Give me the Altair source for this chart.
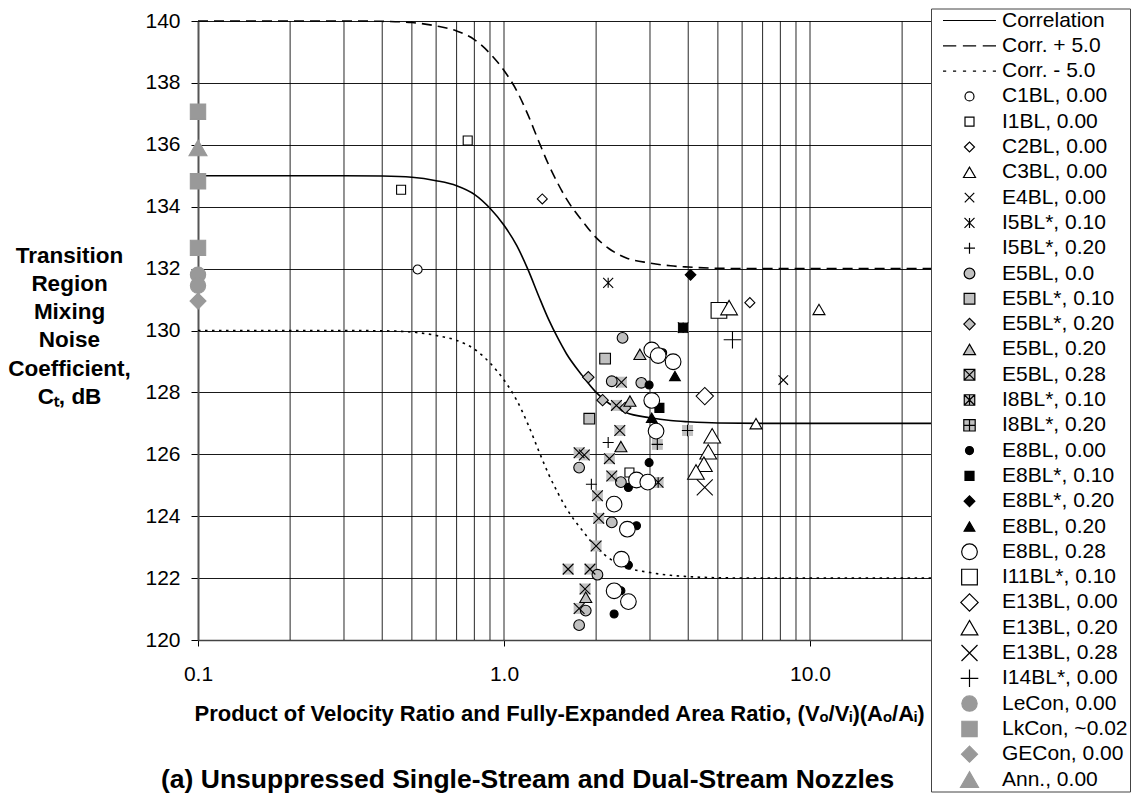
import altair as alt
import pandas as pd

FONT = "Liberation Sans"

# ---------------- correlation curves ----------------
corr_x = [0.1, 0.2, 0.3, 0.4, 0.5, 0.6, 0.7, 0.8, 0.9, 1.0, 1.1, 1.2, 1.3, 1.4, 1.5,
          1.6, 1.8, 2.0, 2.2, 2.5, 3.0, 3.5, 4.0, 5.0, 7.0, 10.0, 20.0, 50.0, 100.0]
corr_y = [135.0, 135.0, 135.0, 134.99, 134.95, 134.84, 134.68, 134.4, 133.95, 133.4, 132.75,
          131.95, 131.1, 130.35, 129.75, 129.25, 128.55, 128.0, 127.65, 127.35, 127.18,
          127.09, 127.05, 127.01, 127.0, 127.0, 127.0, 127.0, 127.0]
corr_plus_y = [140.0, 140.0, 140.0, 139.99, 139.95, 139.84, 139.68, 139.4, 138.95, 138.4, 137.75,
               136.95, 136.1, 135.35, 134.75, 134.25, 133.55, 133.0, 132.65, 132.35, 132.18,
               132.09, 132.05, 132.01, 132.0, 132.0, 132.0, 132.0, 132.0]
corr_minus_y = [130.0, 130.0, 130.0, 129.99, 129.95, 129.84, 129.68, 129.4, 128.95, 128.4, 127.75,
                126.95, 126.1, 125.35, 124.75, 124.25, 123.55, 123.0, 122.65, 122.35, 122.18,
                122.09, 122.05, 122.01, 122.0, 122.0, 122.0, 122.0, 122.0]

# ---------------- measured data points ----------------
C1BL_x = [0.522]
C1BL_y = [131.97]
I1BL_x = [0.461, 0.761, 2.57]
I1BL_y = [134.55, 136.14, 125.41]
C2BL_x = [1.334, 6.36]
C2BL_y = [134.25, 130.9]
C3BL_x = [10.7, 6.66]
C3BL_y = [130.68, 126.99]
E4BL_x = [8.18]
E4BL_y = [128.4]
I5BL10_x = [2.19]
I5BL10_y = [131.54]
I5BL20_x = [2.19, 1.93]
I5BL20_y = [126.38, 125.03]
E5BL00_x = [2.44, 2.25, 2.81, 1.76, 2.41, 2.25, 2.02, 1.85, 1.76]
E5BL00_y = [129.76, 128.36, 128.31, 125.57, 125.1, 123.8, 122.11, 120.95, 120.48]
E5BL10_x = [2.14, 1.90]
E5BL10_y = [129.09, 127.15]
E5BL20s_x = [1.886, 2.10, 2.49]
E5BL20s_y = [128.49, 127.75, 127.5]
E5BL20_x = [2.78, 2.58, 2.41, 1.85]
E5BL20_y = [129.23, 127.72, 126.25, 121.38]
E5BL28_x = [2.42, 2.33, 2.39, 1.76, 1.83, 2.21, 2.25, 2.02, 2.04, 2.0, 1.62, 1.91, 1.84, 1.76]
E5BL28_y = [128.33, 127.58, 126.77, 126.05, 125.98, 125.86, 125.3, 124.66, 123.93, 123.04,
            122.29, 122.29, 121.65, 121.02]
I8BL10_x = [3.85, 3.19]
I8BL10_y = [130.09, 125.09]
I8BL20_x = [3.98, 3.17]
I8BL20_y = [126.77, 126.32]
E8BL00_x = [3.30, 2.98, 2.98, 2.55, 2.29, 2.71, 2.55, 2.41, 2.29]
E8BL00_y = [129.28, 128.24, 125.73, 124.93, 124.39, 123.69, 122.42, 121.59, 120.84]
E8BL10_x = [3.22, 3.85]
E8BL10_y = [127.5, 130.09]
E8BL20s_x = [4.07]
E8BL20s_y = [131.8]
E8BL20_x = [3.62, 3.04]
E8BL20_y = [128.53, 127.18]
E8BL28_x = [3.04, 3.19, 3.57, 3.04, 3.14, 2.71, 2.95, 2.29, 2.53, 2.42, 2.29, 2.55]
E8BL28_y = [129.37, 129.19, 128.99, 127.74, 126.75, 125.17, 125.1, 124.39, 123.58, 122.61,
            121.59, 121.24]
I11BL_x = [5.04]
I11BL_y = [130.65]
E13BL00_x = [4.53]
E13BL00_y = [127.88]
E13BL20_x = [5.44, 4.79, 4.65, 4.5, 4.24]
E13BL20_y = [130.74, 126.6, 126.08, 125.68, 125.43]
E13BL28_x = [4.53]
E13BL28_y = [124.93]
I14BL_x = [5.58]
I14BL_y = [129.7]
LeCon_x = [0.1, 0.1]
LeCon_y = [131.8, 131.45]
LkCon_x = [0.1, 0.1, 0.1]
LkCon_y = [137.07, 134.82, 132.67]
GECon_x = [0.1]
GECon_y = [130.95]
Ann_x = [0.1]
Ann_y = [135.9]

line_names = ["Correlation", "Corr. + 5.0", "Corr. - 5.0"]
point_names = ["C1BL, 0.00", "I1BL, 0.00", "C2BL, 0.00", "C3BL, 0.00", "E4BL, 0.00",
               "I5BL*, 0.10", "I5BL*, 0.20", "E5BL, 0.0", "E5BL*, 0.10", "E5BL*, 0.20",
               "E5BL, 0.20", "E5BL, 0.28", "I8BL*, 0.10", "I8BL*, 0.20", "E8BL, 0.00",
               "E8BL*, 0.10", "E8BL*, 0.20", "E8BL, 0.20", "E8BL, 0.28", "I11BL*, 0.10",
               "E13BL, 0.00", "E13BL, 0.20", "E13BL, 0.28", "I14BL*, 0.00", "LeCon, 0.00",
               "LkCon, ~0.02", "GECon, 0.00", "Ann., 0.00"]
point_xs = [C1BL_x, I1BL_x, C2BL_x, C3BL_x, E4BL_x, I5BL10_x, I5BL20_x, E5BL00_x, E5BL10_x,
            E5BL20s_x, E5BL20_x, E5BL28_x, I8BL10_x, I8BL20_x, E8BL00_x, E8BL10_x, E8BL20s_x,
            E8BL20_x, E8BL28_x, I11BL_x, E13BL00_x, E13BL20_x, E13BL28_x, I14BL_x, LeCon_x,
            LkCon_x, GECon_x, Ann_x]
point_ys = [C1BL_y, I1BL_y, C2BL_y, C3BL_y, E4BL_y, I5BL10_y, I5BL20_y, E5BL00_y, E5BL10_y,
            E5BL20s_y, E5BL20_y, E5BL28_y, I8BL10_y, I8BL20_y, E8BL00_y, E8BL10_y, E8BL20s_y,
            E8BL20_y, E8BL28_y, I11BL_y, E13BL00_y, E13BL20_y, E13BL28_y, I14BL_y, LeCon_y,
            LkCon_y, GECon_y, Ann_y]

grid_x = [0.2, 0.3, 0.4, 0.5, 0.6, 0.7, 0.8, 0.9, 1, 2, 3, 4, 5, 6, 7, 8, 9,
          10, 20, 30, 40, 50, 60, 70, 80, 90, 100]
x_tick_values = [0.1, 1, 10]
y_tick_values = [120, 122, 124, 126, 128, 130, 132, 134, 136, 138, 140]

TITLE = "(a) Unsuppressed Single-Stream and Dual-Stream Nozzles"
X_TITLE = "Product of Velocity Ratio and Fully-Expanded Area Ratio, (Vₒ/Vᵢ)(Aₒ/Aᵢ)"
Y_TITLE = ["Transition", "Region", "Mixing", "Noise", "Coefficient,", "Cₜ, dB"]

# ---------------- styles ----------------
P_X = "M-1,-1L1,1M-1,1L1,-1"
P_PLUS = "M-1,0L1,0M0,-1L0,1"
P_AST = "M-1,-1L1,1M-1,1L1,-1M0,-1L0,1"
P_SQ = "M-1,-1L1,-1L1,1L-1,1Z"
L_SOLID = "M-1,0L1,0"
L_DASH = "M-1,0L-0.5,0M-0.25,0L0.25,0M0.5,0L1,0"
L_DOT = ("M-1,0L-0.88,0M-0.624,0L-0.504,0M-0.248,0L-0.128,0M0.128,0L0.248,0"
         "M0.504,0L0.624,0M0.88,0L1,0")
LG = "#c0c0c0"   # light grey fill
MG = "#999999"   # mid grey
BK = "black"
WH = "white"

pt_shape = ["circle", "square", "diamond", "triangle-up", P_X, P_AST, P_PLUS, "circle", "square",
            "diamond", "triangle-up", P_X, P_AST, P_PLUS, "circle", "square", "diamond",
            "triangle-up", "circle", "square", "diamond", "triangle-up", P_X, P_PLUS,
            "circle", "square", "diamond", "triangle-up"]
pt_legend_shape = list(pt_shape)
pt_legend_shape[11] = P_SQ + P_X
pt_legend_shape[12] = P_SQ + P_AST
pt_legend_shape[13] = P_SQ + P_PLUS
pt_fill = [WH, WH, WH, WH, WH, WH, WH, LG, LG, LG, LG, LG, LG, LG, BK, BK, BK, BK,
           WH, WH, WH, WH, WH, WH, MG, MG, MG, MG]
pt_stroke = [BK] * 24 + [MG] * 4
pt_size = [81, 81, 100, 144, 90, 100, 121, 115, 115, 130, 144, 115, 110, 130, 64, 81, 115,
           115, 246, 246, 300, 280, 256, 310, 235, 235, 256, 324]
bg_series = ["E5BL, 0.28", "I8BL*, 0.10", "I8BL*, 0.20"]

all_names = line_names + point_names
lg_shape = [L_SOLID, L_DASH, L_DOT] + pt_legend_shape
lg_fill = ["transparent"] * 3 + pt_fill
lg_stroke = [BK] * 3 + pt_stroke
lg_size = [2809] * 3 + pt_size

# ---------------- tables ----------------
lines_df = pd.concat([
    pd.DataFrame({"x": corr_x, "y": corr_y, "curve": "Correlation"}),
    pd.DataFrame({"x": corr_x, "y": corr_plus_y, "curve": "Corr. + 5.0"}),
    pd.DataFrame({"x": corr_x, "y": corr_minus_y, "curve": "Corr. - 5.0"}),
])
rows = []
for i, (nm, xs, ys) in enumerate(zip(point_names, point_xs, point_ys)):
    for xv, yv in zip(xs, ys):
        rows.append({"x": xv, "y": yv, "series": nm, "order": i})
pts_df = pd.DataFrame(rows)
grid_df = pd.DataFrame({"x": grid_x})

xscale = alt.Scale(type="log", domain=[0.1, 100], nice=False)
yscale = alt.Scale(domain=[120, 140], nice=False, zero=False)

x_axis = alt.Axis(values=x_tick_values, format=".1f", grid=False, tickSize=6, tickColor=BK,
                  domainColor="#444", domainWidth=1.5, labelFont=FONT, labelFontSize=21,
                  labelColor=BK, labelPadding=17, labelFlush=False,
                  title=X_TITLE, titleFont=FONT, titleFontSize=22, titleFontWeight="bold",
                  titleColor=BK, titleAnchor="start", titleAlign="left", titleX=-4, titleY=73,
                  titleBaseline="middle")
y_axis = alt.Axis(values=y_tick_values, grid=True, gridColor=BK, gridWidth=1,
                  gridOpacity=0.9, tickSize=7, tickColor=BK, domainColor="#555", domainWidth=2,
                  labelFont=FONT, labelFontSize=21, labelColor=BK, labelPadding=11,
                  title=Y_TITLE, titleFont=FONT, titleFontSize=22.5, titleFontWeight="bold",
                  titleColor=BK, titleAngle=0, titleAlign="center", titleBaseline="middle",
                  titleX=-129, titleY=234, titleLineHeight=28.3)

X = alt.X("x:Q", scale=xscale, axis=x_axis)
Y = alt.Y("y:Q", scale=yscale, axis=y_axis)

grid = alt.Chart(grid_df).mark_rule(color=BK, strokeWidth=1, opacity=0.85).encode(x=X)

base_lines = alt.Chart(lines_df)
line_solid = base_lines.transform_filter(alt.datum.curve == "Correlation").mark_line(
    color=BK, strokeWidth=1.6, interpolate="monotone").encode(x=X, y=Y)
line_dash = base_lines.transform_filter(alt.datum.curve == "Corr. + 5.0").mark_line(
    color=BK, strokeWidth=1.6, strokeDash=[10, 6], interpolate="monotone").encode(x=X, y=Y)
line_dot = base_lines.transform_filter(alt.datum.curve == "Corr. - 5.0").mark_line(
    color=BK, strokeWidth=1.6, strokeDash=[2.5, 4.5], interpolate="monotone").encode(x=X, y=Y)

bg = alt.Chart(pts_df).transform_filter(
    alt.FieldOneOfPredicate(field="series", oneOf=bg_series)).mark_point(
    shape="square", filled=True, color=LG, opacity=1, strokeWidth=0).encode(
    x=X, y=Y, size=alt.value(120))

points = alt.Chart(pts_df).mark_point(filled=True, opacity=1, strokeWidth=1.1).encode(
    x=X, y=Y,
    shape=alt.Shape("series:N", scale=alt.Scale(domain=point_names, range=pt_shape), legend=None),
    fill=alt.Fill("series:N", scale=alt.Scale(domain=point_names, range=pt_fill), legend=None),
    stroke=alt.Stroke("series:N", scale=alt.Scale(domain=point_names, range=pt_stroke), legend=None),
    size=alt.Size("series:N", scale=alt.Scale(type="ordinal", domain=point_names, range=pt_size),
                  legend=None),
    order=alt.Order("order:Q"))

leg = alt.Legend(orient="none", legendX=733, legendY=-12.5, fillColor="white", strokeColor="#444",
                 padding=2, symbolOffset=9, clipHeight=20, rowPadding=4.3, labelOffset=5,
                 labelFont=FONT, labelFontSize=21, labelColor=BK, labelLimit=300,
                 symbolLimit=100, symbolStrokeWidth=1.2)
legend_layer = alt.Chart(pts_df).transform_filter("false").mark_point(
    filled=True, opacity=1, strokeWidth=1.2).encode(
    x=X, y=Y,
    shape=alt.Shape("series:N", title=None, legend=leg,
                    scale=alt.Scale(domain=all_names, range=lg_shape)),
    fill=alt.Fill("series:N", title=None, legend=leg,
                  scale=alt.Scale(domain=all_names, range=lg_fill)),
    stroke=alt.Stroke("series:N", title=None, legend=leg,
                      scale=alt.Scale(domain=all_names, range=lg_stroke)),
    size=alt.Size("series:N", title=None, legend=leg,
                  scale=alt.Scale(type="ordinal", domain=all_names, range=lg_size)),
)

title_layer = alt.Chart(pd.DataFrame({"t": [TITLE]})).mark_text(
    align="left", baseline="middle", font=FONT, fontSize=26.5, fontWeight="bold", color=BK
).encode(text="t:N", x=alt.value(-37), y=alt.value(759))

chart = alt.layer(grid, line_dot, line_dash, line_solid, bg, points, legend_layer,
                  title_layer).resolve_scale(
    shape="independent", fill="independent", stroke="independent", size="independent"
).properties(
    width=918, height=619,
    padding={"left": 190, "top": 13, "right": 15, "bottom": 153},
    autosize=alt.AutoSizeParams(type="none"),
).configure_view(stroke=None)

chart.save("out.html", embed_options={"renderer": "svg", "actions": False})
